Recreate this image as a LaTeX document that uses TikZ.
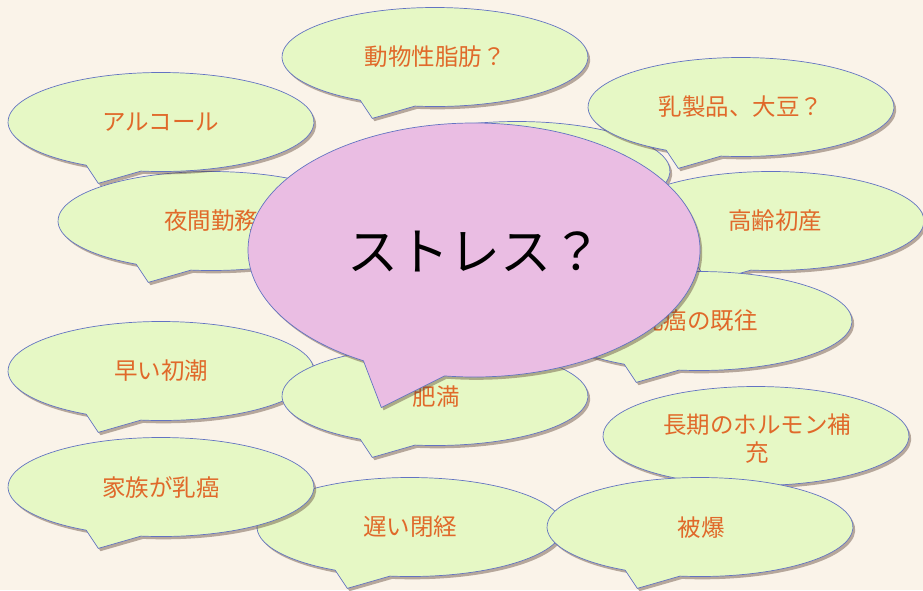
\documentclass[tikz,border=0pt]{standalone}
\usepackage{fontspec}
\newfontfamily\jp{Noto Sans CJK JP}
\usetikzlibrary{shadows}
\definecolor{bgc}{HTML}{FAF3E9}
\definecolor{edgec}{HTML}{6373C2}
\definecolor{greenc}{HTML}{E6F8C5}
\definecolor{pinkc}{HTML}{EABDE3}
\definecolor{txtc}{HTML}{E0692A}
\definecolor{shadowc}{HTML}{5A4030}
% #1 x, #2 y (image coords), #3 rx, #4 ry, #5 fill colour
\newcommand\bubbleshape[5]{%
  \path[bubline, fill=#5] (#1,-#2) ++(262.5:{#3} and {#4})
    arc[start angle=262.5, end angle=600.7, x radius=#3, y radius=#4]
    -- (#1-0.41*#3, -#2-1.24*#4) -- cycle;}
\begin{document}
\begin{tikzpicture}[x=1pt,y=1pt,
  bubline/.style={draw=edgec, line width=0.7pt,
    drop shadow={shadow xshift=2.2pt, shadow yshift=-2.8pt, opacity=0.42, fill=shadowc}},
  bubtext/.style={text=txtc, font=\jp\fontsize{23.5}{28}\selectfont, align=center, inner sep=0pt},
  bigtext/.style={text=black, font=\jp\fontsize{51}{56}\selectfont, inner sep=0pt}]
\fill[bgc] (0,0) rectangle (923,-590);
\useasboundingbox (0,0) rectangle (923,-590);

\bubbleshape{435}{57}{153}{49.5}{greenc}
\node[bubtext] (doubutsu) at (435,-57) {動物性脂肪？};

\bubbleshape{211}{221}{153}{49.5}{greenc}
\node[bubtext] (yakan) at (211,-221) {夜間勤務};

\bubbleshape{161}{122}{153}{49.5}{greenc}
\node[bubtext] (alcohol) at (161,-122) {アルコール};

\bubbleshape{517}{171}{153}{49.5}{greenc}
\coordinate (hidden) at (517,-171);

\bubbleshape{741}{107}{153}{49.5}{greenc}
\node[bubtext] (nyuseihin) at (741,-107) {乳製品、大豆？};

\bubbleshape{771}{221}{153}{49.5}{greenc}
\node[bubtext] (kourei) at (775,-221) {高齢初産};

\bubbleshape{699}{321}{153}{49.5}{greenc}
\node[bubtext] (kiou) at (699,-321) {乳癌の既往};

\bubbleshape{161}{371}{153}{49.5}{greenc}
\node[bubtext] (shochou) at (161,-371) {早い初潮};

\bubbleshape{435}{396}{153}{49.5}{greenc}
\node[bubtext] (himan) at (436,-397) {肥満};

\bubbleshape{756}{436}{153}{49.5}{greenc}
\node[bubtext] (hormone) at (757,-439) {長期のホルモン補\\充};

\bubbleshape{410}{527}{153}{49.5}{greenc}
\node[bubtext] (heikei) at (410,-527) {遅い閉経};

\bubbleshape{161}{487}{153}{49.5}{greenc}
\node[bubtext] (kazoku) at (161,-488) {家族が乳癌};

\bubbleshape{700}{527}{153}{49.5}{greenc}
\node[bubtext] (hibaku) at (701,-528) {被爆};

\bubbleshape{474}{250}{226}{127}{pinkc}
\node[bigtext] (stress) at (475,-252) {ストレス？};
\end{tikzpicture}
\end{document}
